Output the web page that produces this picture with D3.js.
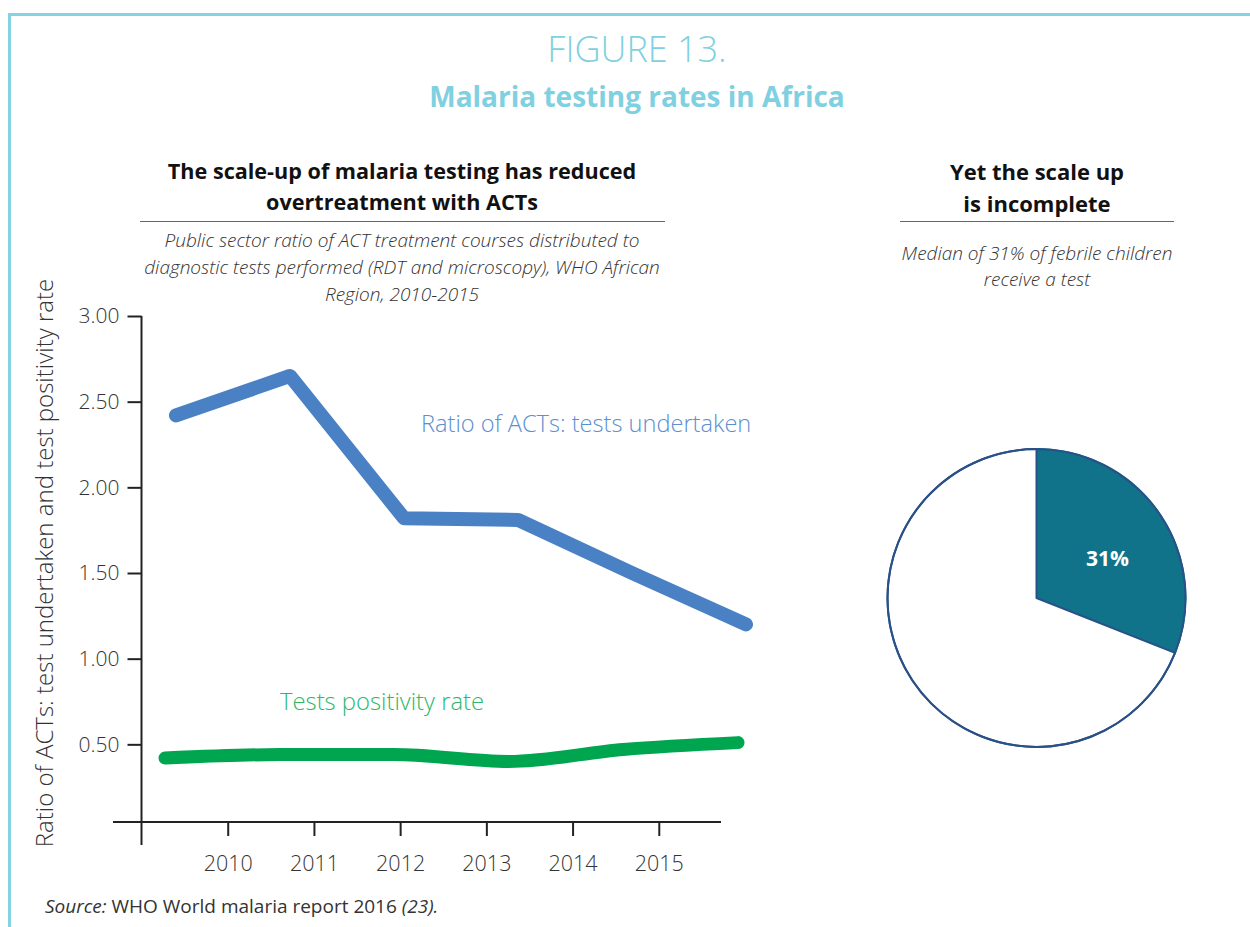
<!DOCTYPE html>
<html>
<head>
<meta charset="utf-8">
<script src="https://cdn.jsdelivr.net/npm/d3@7"></script>
<style>
  html, body { margin: 0; padding: 0; background: #fff; }
  svg { display: block; }
  text { font-family: "Open Sans", "Noto Sans", sans-serif; }
</style>
</head>
<body>
<svg id="chart" width="1250" height="927"></svg>
<script>
// ---------- data ----------
const years = [2010, 2011, 2012, 2013, 2014, 2015];
const actRatio = [2.42, 2.65, 1.82, 1.81, 1.50, 1.20];
const positivityRate = [0.42, 0.44, 0.44, 0.40, 0.47, 0.51];
const yTicks = [0.5, 1.0, 1.5, 2.0, 2.5, 3.0];
const xTicks = [2010, 2011, 2012, 2013, 2014, 2015];
const pieLabels = ["Tested", "Not tested"];
const pieValues = [31, 69];

const svg = d3.select("#chart");
const W = 1250, H = 927;
const frameColor = "#84d3e3";
const txt = "#333333";

// frame
svg.append("line").attr("x1", 8).attr("x2", W).attr("y1", 14.5).attr("y2", 14.5)
  .attr("stroke", frameColor).attr("stroke-width", 3);
svg.append("line").attr("x1", 9.5).attr("x2", 9.5).attr("y1", 13).attr("y2", H)
  .attr("stroke", frameColor).attr("stroke-width", 3);

// titles
svg.append("text").attr("x", 637).attr("y", 62).attr("text-anchor", "middle")
  .attr("font-size", 36).attr("font-weight", 300).attr("fill", "#7fd0e0").text("FIGURE 13.");
svg.append("text").attr("x", 637).attr("y", 107).attr("text-anchor", "middle")
  .attr("font-size", 28).attr("font-weight", 700).attr("fill", "#7fd0e0").text("Malaria testing rates in Africa");

// left panel heading
const lh = svg.append("text").attr("text-anchor", "middle").attr("font-size", 21.6)
  .attr("font-weight", 700).attr("fill", "#111");
lh.append("tspan").attr("x", 402).attr("y", 179).text("The scale-up of malaria testing has reduced");
lh.append("tspan").attr("x", 402).attr("y", 210).text("overtreatment with ACTs");
svg.append("line").attr("x1", 140).attr("x2", 665).attr("y1", 221.5).attr("y2", 221.5)
  .attr("stroke", "#666").attr("stroke-width", 1.2);
const ls = svg.append("text").attr("text-anchor", "middle").attr("font-size", 19)
  .attr("font-style", "italic").attr("font-weight", 300).attr("fill", txt);
ls.append("tspan").attr("x", 402).attr("y", 247).text("Public sector ratio of ACT treatment courses distributed to");
ls.append("tspan").attr("x", 402).attr("y", 274).text("diagnostic tests performed (RDT and microscopy), WHO African");
ls.append("tspan").attr("x", 402).attr("y", 301).text("Region, 2010-2015");

// right panel heading
const rh = svg.append("text").attr("text-anchor", "middle").attr("font-size", 22)
  .attr("font-weight", 700).attr("fill", "#111");
rh.append("tspan").attr("x", 1037).attr("y", 180).text("Yet the scale up");
rh.append("tspan").attr("x", 1037).attr("y", 212).text("is incomplete");
svg.append("line").attr("x1", 900).attr("x2", 1174).attr("y1", 221.5).attr("y2", 221.5)
  .attr("stroke", "#666").attr("stroke-width", 1.2);
const rs = svg.append("text").attr("text-anchor", "middle").attr("font-size", 19)
  .attr("font-style", "italic").attr("font-weight", 300).attr("fill", txt);
rs.append("tspan").attr("x", 1037).attr("y", 260).text("Median of 31% of febrile children");
rs.append("tspan").attr("x", 1037).attr("y", 286).text("receive a test");

// ---------- line chart ----------
const y = d3.scaleLinear().domain([0, 3]).range([830, 316]);
const xAxisScale = d3.scaleLinear().domain([2009, 2016]).range([141.5, 745]);
const xBlue = d3.scaleLinear().domain([2010, 2015]).range([176, 746]);
const xGreen = d3.scaleLinear().domain([2010, 2015]).range([165, 738]);
const axisColor = "#222";

const yAxis = d3.axisLeft(y).tickValues(yTicks).tickFormat(d3.format(".2f")).tickSize(14).tickPadding(8);
const gy = svg.append("g").attr("transform", "translate(141.5,0)").call(yAxis);
gy.select(".domain").remove();
gy.selectAll(".tick line").attr("stroke", axisColor).attr("stroke-width", 2);
gy.selectAll(".tick text").attr("font-size", 21).attr("font-weight", 300)
  .attr("fill", txt).attr("font-family", "'Open Sans', sans-serif");
svg.append("line").attr("x1", 141.5).attr("x2", 141.5).attr("y1", y(3)).attr("y2", 845)
  .attr("stroke", axisColor).attr("stroke-width", 2);

const xAxisY = 822;
const xAxis = d3.axisBottom(xAxisScale).tickValues(xTicks).tickFormat(d3.format("d")).tickSize(14).tickPadding(20);
const gx = svg.append("g").attr("transform", `translate(0,${xAxisY})`).call(xAxis);
gx.select(".domain").remove();
gx.selectAll(".tick line").attr("stroke", axisColor).attr("stroke-width", 2);
gx.selectAll(".tick text").attr("font-size", 21.5).attr("font-weight", 300)
  .attr("fill", txt).attr("font-family", "'Open Sans', sans-serif");
svg.append("line").attr("x1", 113).attr("x2", 721).attr("y1", xAxisY).attr("y2", xAxisY)
  .attr("stroke", axisColor).attr("stroke-width", 2);

// y axis title
svg.append("text").attr("transform", `translate(53,${563}) rotate(-90)`)
  .attr("text-anchor", "middle").attr("font-size", 24).attr("font-weight", 300)
  .attr("fill", txt).text("Ratio of ACTs: test undertaken and test positivity rate");

// lines
const blueLine = d3.line().x((d, i) => xBlue(years[i])).y(d => y(d));
svg.append("path").datum(actRatio).attr("d", blueLine)
  .attr("fill", "none").attr("stroke", "#4a80c4").attr("stroke-width", 14)
  .attr("stroke-linecap", "round").attr("stroke-linejoin", "round");

const greenLine = d3.line().x((d, i) => xGreen(years[i])).y(d => y(d)).curve(d3.curveMonotoneX);
svg.append("path").datum(positivityRate).attr("d", greenLine)
  .attr("fill", "none").attr("stroke", "#00a550").attr("stroke-width", 13)
  .attr("stroke-linecap", "round").attr("stroke-linejoin", "round");

svg.append("text").attr("x", 421).attr("y", 432).attr("font-size", 23.6).attr("font-weight", 300)
  .attr("fill", "#5b8fd0").text("Ratio of ACTs: tests undertaken");
svg.append("text").attr("x", 280).attr("y", 710).attr("font-size", 23.8).attr("font-weight", 300)
  .attr("fill", "#2db76a").text("Tests positivity rate");

// ---------- pie ----------
const pie = d3.pie().sort(null).value(d => d)(pieValues);
const arc = d3.arc().innerRadius(0).outerRadius(149);
const gp = svg.append("g").attr("transform", "translate(1036.5,598)");
const pieFills = ["#107389", "#ffffff"];
gp.selectAll("path").data(pie).join("path")
  .attr("d", arc).attr("fill", (d, i) => pieFills[i])
  .attr("stroke", (d, i) => i === 0 ? "#107389" : "#2a5088").attr("stroke-width", 2)
  .attr("stroke-linejoin", "round");
gp.append("circle").attr("r", 149).attr("fill", "none").attr("stroke", "#2a5088").attr("stroke-width", 2);
gp.append("text").attr("x", 71).attr("y", -32).attr("text-anchor", "middle")
  .attr("font-size", 21).attr("font-weight", 700).attr("fill", "#fff")
  .text(d3.format("d")(pieValues[0]) + "%");

// source
const src = svg.append("text").attr("x", 45).attr("y", 913).attr("font-size", 19).attr("fill", txt);
src.append("tspan").attr("font-style", "italic").text("Source:");
src.append("tspan").text(" WHO World malaria report 2016 ");
src.append("tspan").attr("font-style", "italic").text("(23).");
</script>
</body>
</html>
